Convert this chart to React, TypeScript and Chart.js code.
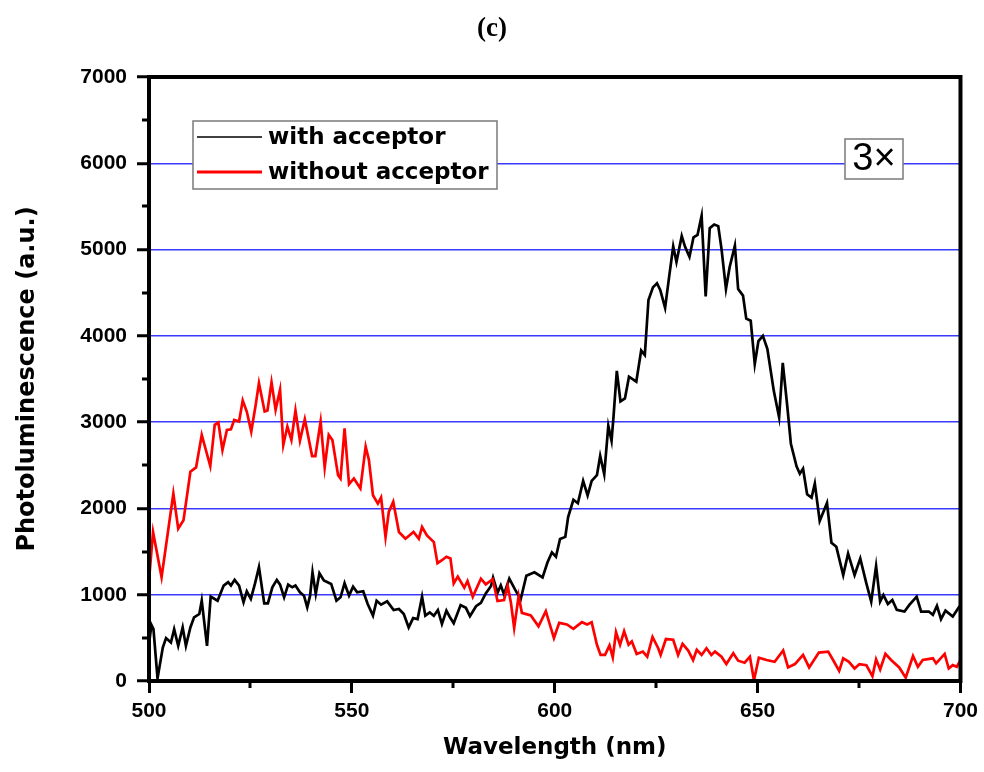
import React, { useEffect, useRef } from "react";
import { Chart, registerables } from "chart.js";

Chart.register(...registerables);

// Emission spectrum with the acceptor present (black trace)
const withWavelength = [
  500.0, 500.6, 501.1, 502.1, 503.4, 504.2, 505.4, 506.2, 507.2, 508.3, 509.1, 510.2, 511.1, 512.4, 513.0, 514.3,
  515.2, 516.9, 518.4, 519.5, 520.2, 521.1, 522.2, 523.3, 524.1, 525.1, 526.1, 527.1, 528.4, 529.3, 530.4, 531.5,
  532.3, 533.3, 534.3, 535.3, 536.1, 537.2, 538.2, 539.0, 539.7, 540.3, 541.1, 542.0, 543.1, 544.9, 546.2, 547.2,
  548.2, 549.3, 550.3, 551.3, 552.8, 553.9, 555.2, 556.1, 557.2, 558.7, 560.3, 561.6, 562.8, 564.0, 565.1, 566.2,
  567.3, 568.1, 569.2, 570.2, 571.2, 572.2, 573.3, 574.1, 575.1, 576.8, 578.1, 579.1, 580.6, 581.8, 583.0, 584.3,
  584.8, 585.9, 586.7, 587.5, 588.8, 590.2, 591.6, 593.0, 595.0, 597.0, 598.2, 599.3, 600.3, 601.3, 602.6, 603.3,
  604.6, 605.7, 607.0, 608.1, 609.1, 610.4, 611.2, 612.2, 613.2, 614.0, 614.5, 615.3, 616.2, 617.3, 618.3, 620.1,
  621.3, 622.2, 623.1, 624.2, 625.2, 626.0, 627.2, 628.2, 629.2, 630.0, 631.3, 632.1, 633.2, 634.2, 635.2, 636.2,
  637.2, 638.2, 639.3, 640.3, 641.1, 642.2, 643.1, 644.4, 645.2, 646.4, 647.2, 648.3, 649.3, 650.2, 651.3, 652.4,
  654.0, 655.3, 656.2, 657.3, 658.2, 659.6, 660.4, 661.2, 662.2, 663.3, 664.1, 665.3, 667.1, 668.2, 669.4, 671.1,
  672.3, 673.9, 675.3, 676.8, 678.0, 679.2, 680.2, 681.0, 682.1, 683.2, 684.3, 686.2, 687.4, 689.2, 690.3, 692.2,
  693.2, 694.2, 695.2, 696.3, 698.1, 699.6, 700.0,
];
const withIntensity = [
  430, 650, 600, 30, 388, 497, 446, 601, 407, 621, 407, 621, 737, 776, 931, 407,
  978, 931, 1106, 1145, 1106, 1172, 1106, 912, 1040, 951, 1125, 1319, 900, 900, 1086, 1172,
  1117, 970, 1117, 1086, 1106, 1028, 989, 854, 989, 1261, 1009, 1249, 1164, 1125, 931, 970,
  1133, 989, 1094, 1028, 1040, 892, 757, 931, 885, 923, 823, 834, 776, 621, 729, 718,
  978, 757, 795, 757, 823, 660, 815, 745, 670, 880, 848, 751, 867, 906, 1015, 1101,
  1198, 1023, 1109, 1004, 1186, 1062, 945, 1220, 1259, 1201, 1373, 1490, 1440, 1645, 1670, 1900,
  2100, 2060, 2320, 2150, 2320, 2386, 2610, 2397, 2957, 2783, 3073, 3594, 3240, 3274, 3527, 3470,
  3830, 3778, 4416, 4562, 4610, 4532, 4325, 4686, 5038, 4855, 5158, 5034, 4915, 5142, 5170, 5390,
  4458, 5247, 5291, 5272, 5008, 4543, 4795, 5046, 4543, 4466, 4200, 4175, 3673, 3940, 4000, 3850,
  3360, 3055, 3686, 3190, 2750, 2487, 2402, 2460, 2164, 2125, 2287, 1855, 2063, 1601, 1555, 1228,
  1478, 1228, 1420, 1131, 920, 1332, 920, 997, 893, 939, 824, 805, 882, 978, 805, 805,
  766, 870, 716, 816, 747, 855, 880,
];

// Emission spectrum without the acceptor (red trace)
const withoutWavelength = [
  500.0, 501.0, 503.1, 506.0, 507.2, 508.5, 510.2, 511.6, 513.0, 515.1, 516.2, 517.1, 518.1, 519.2, 520.2, 521.0,
  522.2, 523.1, 524.1, 525.2, 526.3, 527.1, 528.5, 529.2, 530.2, 531.2, 532.3, 533.1, 534.1, 535.1, 536.1, 537.2,
  538.4, 540.2, 541.0, 542.3, 543.3, 544.3, 545.2, 546.6, 547.2, 548.2, 549.3, 550.5, 552.1, 553.4, 554.2, 555.2,
  556.4, 557.2, 558.3, 559.1, 560.2, 561.6, 563.2, 565.2, 566.5, 567.3, 568.5, 570.2, 571.1, 572.2, 573.3, 574.3,
  575.1, 576.1, 577.7, 578.5, 579.8, 581.8, 583.0, 584.7, 585.9, 587.5, 588.4, 589.2, 590.0, 591.1, 591.9, 594.1,
  596.0, 597.8, 599.8, 601.1, 603.0, 604.6, 606.7, 608.0, 609.1, 610.4, 611.3, 612.4, 613.5, 614.3, 615.1, 616.1,
  617.1, 618.2, 619.0, 620.2, 621.7, 622.8, 624.1, 625.5, 626.1, 627.4, 629.2, 630.4, 631.5, 632.9, 634.1, 635.0,
  636.2, 637.4, 638.6, 639.5, 641.1, 642.3, 644.0, 645.2, 646.8, 648.1, 649.1, 650.3, 652.2, 654.2, 656.3, 657.5,
  659.2, 661.2, 662.7, 665.1, 667.4, 668.6, 670.1, 671.1, 672.5, 673.9, 675.1, 676.8, 678.3, 679.2, 680.2, 681.5,
  682.9, 684.9, 686.5, 688.3, 689.5, 690.7, 693.2, 694.0, 696.1, 697.1, 698.1, 699.1, 700.0,
];
const withoutIntensity = [
  1170, 1727, 1203, 2173, 1765, 1862, 2425, 2475, 2852, 2491, 2968, 2995, 2677, 2910, 2918, 3026,
  3007, 3251, 3123, 2890, 3201, 3453, 3123, 3135, 3461, 3143, 3376, 2735, 2949, 2794, 3135, 2786,
  3034, 2607, 2607, 3007, 2475, 2852, 2794, 2386, 2347, 2929, 2281, 2347, 2231, 2716, 2561, 2153,
  2056, 2126, 1668, 1959, 2076, 1727, 1649, 1727, 1649, 1785, 1688, 1610, 1366, 1400, 1440, 1420,
  1130, 1210, 1081, 1159, 976, 1186, 1120, 1179, 926, 937, 1101, 906, 615, 984, 790, 759,
  634, 809, 498, 673, 655, 604, 682, 655, 682, 420, 302, 302, 412, 274, 565, 420,
  576, 420, 459, 314, 341, 282, 510, 380, 302, 486, 478, 302, 431, 353, 243, 361,
  302, 380, 302, 341, 282, 196, 321, 235, 212, 282, 8, 270, 243, 223, 353, 157,
  196, 302, 157, 329, 341, 243, 118, 263, 223, 145, 196, 184, 55, 251, 133, 314,
  243, 157, 39, 290, 165, 243, 263, 204, 314, 145, 184, 165, 243,
];

const seriesLabels = ["with acceptor", "without acceptor"];
const seriesColors = ["#000000", "#ff0000"];

const xMajorTicks = [500, 550, 600, 650, 700];
const xMinorTicks = [525, 575, 625, 675];
const yMajorTicks = [0, 1000, 2000, 3000, 4000, 5000, 6000, 7000];
const yMinorTicks = [500, 1500, 2500, 3500, 4500, 5500, 6500];

const panelTitle = "(c)";
const gainLabel = "3×";
const xTitle = "Wavelength (nm)";
const yTitle = "Photoluminescence (a.u.)";

const SANS = "'Liberation Sans', Arial, sans-serif";
const WIDE = "'DejaVu Sans', Verdana, sans-serif";
const SERIF = "'Liberation Serif', 'Times New Roman', serif";

// Frame, minor ticks, titles, legend and the gain tag
const decorPlugin = {
  id: "decor",
  afterDraw(chart: any) {
    const { ctx, chartArea: a, scales } = chart;
    const xs = scales.x;
    const ys = scales.y;
    ctx.save();

    ctx.strokeStyle = "#000";
    ctx.lineWidth = 3;
    ctx.beginPath();
    yMinorTicks.forEach((v) => {
      const py = Math.round(ys.getPixelForValue(v));
      ctx.moveTo(a.left - 7, py);
      ctx.lineTo(a.left, py);
    });
    xMinorTicks.forEach((v) => {
      const px = Math.round(xs.getPixelForValue(v));
      ctx.moveTo(px, a.bottom);
      ctx.lineTo(px, a.bottom + 7);
    });
    ctx.stroke();

    ctx.lineWidth = 4;
    ctx.strokeRect(a.left, a.top, a.right - a.left, a.bottom - a.top);

    // panel title
    ctx.fillStyle = "#000";
    ctx.textAlign = "center";
    ctx.textBaseline = "middle";
    ctx.font = `bold 27px ${SERIF}`;
    ctx.fillText(panelTitle, 492, 29);

    // axis titles
    ctx.font = `bold 23px ${WIDE}`;
    ctx.fillText(xTitle, (a.left + a.right) / 2, 748);
    ctx.save();
    ctx.translate(28, (a.top + a.bottom) / 2);
    ctx.rotate(-Math.PI / 2);
    ctx.font = `bold 24px ${WIDE}`;
    ctx.fillText(yTitle, 0, 0);
    ctx.restore();

    // legend
    const lx = 193, ly = 121, lw = 304, lh = 68;
    ctx.fillStyle = "#fff";
    ctx.fillRect(lx, ly, lw, lh);
    ctx.strokeStyle = "#7a7a7a";
    ctx.lineWidth = 1.5;
    ctx.strokeRect(lx, ly, lw, lh);
    const rows = [137, 172];
    const widths = [1.5, 3];
    chart.data.datasets.forEach((ds: any, i: number) => {
      ctx.strokeStyle = ds.borderColor;
      ctx.lineWidth = widths[i];
      ctx.beginPath();
      ctx.moveTo(197, rows[i]);
      ctx.lineTo(262, rows[i]);
      ctx.stroke();
      ctx.fillStyle = "#000";
      ctx.textAlign = "left";
      ctx.textBaseline = "middle";
      ctx.font = `bold 23px ${WIDE}`;
      ctx.fillText(ds.label, 268, rows[i] + 1);
    });

    // gain tag
    const gx = 845, gy = 139, gw = 58, gh = 40;
    ctx.fillStyle = "#fff";
    ctx.fillRect(gx, gy, gw, gh);
    ctx.strokeStyle = "#7a7a7a";
    ctx.lineWidth = 1.5;
    ctx.strokeRect(gx, gy, gw, gh);
    ctx.fillStyle = "#000";
    ctx.textAlign = "center";
    ctx.textBaseline = "middle";
    ctx.font = `38px ${SANS}`;
    ctx.fillText(gainLabel, gx + gw / 2, gy + gh / 2 + 1);

    ctx.restore();
  },
};

export default function App() {
  const canvasRef = useRef<HTMLCanvasElement | null>(null);

  useEffect(() => {
    if (!canvasRef.current) return;
    const toPoints = (xs: number[], ys: number[]) => xs.map((x, i) => ({ x, y: ys[i] }));

    const chart = new Chart(canvasRef.current, {
      type: "line",
      data: {
        datasets: [
          {
            label: seriesLabels[0],
            data: toPoints(withWavelength, withIntensity),
            borderColor: seriesColors[0],
            borderWidth: 2.7,
            pointRadius: 0,
            tension: 0,
            order: 1,
          },
          {
            label: seriesLabels[1],
            data: toPoints(withoutWavelength, withoutIntensity),
            borderColor: seriesColors[1],
            borderWidth: 2.7,
            pointRadius: 0,
            tension: 0,
            order: 0,
          },
        ],
      },
      options: {
        responsive: false,
        animation: false,
        layout: { padding: { top: 77, right: 22, left: 0, bottom: 0 } },
        plugins: {
          legend: { display: false },
          title: { display: false },
          tooltip: { enabled: false },
        },
        scales: {
          x: {
            type: "linear",
            min: 500,
            max: 700,
            afterBuildTicks: (s: any) => {
              s.ticks = xMajorTicks.map((v) => ({ value: v }));
            },
            afterFit: (s: any) => {
              s.height = 91;
            },
            grid: {
              drawOnChartArea: false,
              tickLength: 12,
              tickColor: "#000",
              tickWidth: 3,
            },
            border: { display: false },
            ticks: {
              color: "#000",
              padding: 6,
              maxRotation: 0,
              callback: (v: any) => String(v),
              font: { family: SANS, size: 21, weight: "bold" },
            },
          },
          y: {
            type: "linear",
            min: 0,
            max: 7000,
            afterBuildTicks: (s: any) => {
              s.ticks = yMajorTicks.map((v) => ({ value: v }));
            },
            afterFit: (s: any) => {
              s.width = 149;
            },
            grid: {
              color: "rgb(58,58,255)",
              lineWidth: 1.5,
              tickLength: 12,
              tickColor: "#000",
              tickWidth: 3,
            },
            border: { display: false },
            ticks: {
              color: "#000",
              padding: 10,
              callback: (v: any) => String(v),
              font: { family: SANS, size: 21, weight: "bold" },
            },
          },
        },
      },
      plugins: [decorPlugin],
    });

    return () => chart.destroy();
  }, []);

  return (
    <div style={{ position: "absolute", left: 0, top: 0, width: 984, height: 772, background: "#fff" }}>
      <canvas ref={canvasRef} width={984} height={772} />
    </div>
  );
}
